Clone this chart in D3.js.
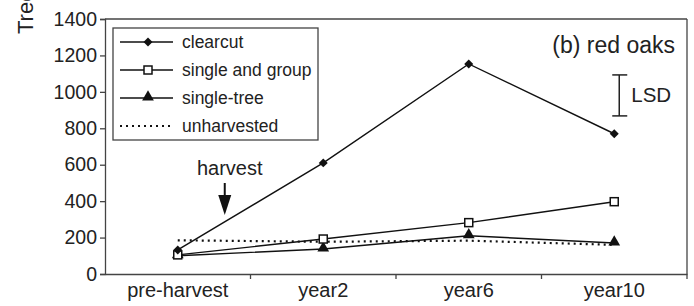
<!DOCTYPE html>
<html>
<head>
<meta charset="utf-8">
<script src="https://cdn.jsdelivr.net/npm/d3@7"></script>
<style>
  body { margin: 0; background: #fff; }
  text { font-family: "Liberation Sans", Arial, sans-serif; fill: #222; }
</style>
</head>
<body>
<div id="chart"></div>
<script>
// categories and series
var periods = ["pre-harvest", "year2", "year6", "year10"];
var clearcut = [132, 610, 1153, 770];
var singleGroup = [105, 192, 282, 397];
var singleTree = [100, 137, 210, 170];
var unharvested = [185, 177, 183, 160];
var yTicks = [0, 200, 400, 600, 800, 1000, 1200, 1400];
var lsd = [868, 1093];

var series = [
    { name: "clearcut", values: clearcut, marker: "diamond", dash: null },
    { name: "single and group", values: singleGroup, marker: "square", dash: null },
    { name: "single-tree", values: singleTree, marker: "triangle", dash: null },
    { name: "unharvested", values: unharvested, marker: "none", dash: "2,4" }
];

var W = 694, H = 306;
var margin = { top: 19, right: 7, bottom: 32, left: 105 },
    width = W - margin.left - margin.right,
    height = H - margin.top - margin.bottom;

var svg = d3.select("#chart").append("svg")
    .attr("width", W)
    .attr("height", H);

var g = svg.append("g")
    .attr("transform", "translate(" + margin.left + "," + margin.top + ")");

var x = d3.scaleBand().domain(periods).range([0, width]);
var y = d3.scaleLinear().domain([0, 1400]).range([height, 0]);
var cx = function (d, i) { return x(periods[i]) + x.bandwidth() / 2; };

// frame: top and right lines
g.append("line").attr("x1", 0).attr("x2", width).attr("y1", 0).attr("y2", 0)
    .attr("stroke", "#444").attr("stroke-width", 1.3);
g.append("line").attr("x1", width).attr("x2", width).attr("y1", 0).attr("y2", height)
    .attr("stroke", "#444").attr("stroke-width", 1.3);

// axes
var yAxis = g.append("g")
    .call(d3.axisLeft(y).tickValues(yTicks).tickFormat(d3.format("d")).tickSize(5).tickPadding(3));
var xAxis = g.append("g")
    .attr("transform", "translate(0," + height + ")")
    .call(d3.axisBottom(x).tickSize(0).tickPadding(9));

// x ticks at band boundaries
xAxis.selectAll(".bt")
    .data(periods.slice(1).concat(["end"]))
    .enter().append("line")
    .attr("x1", function (d, i) { return x.step() * (i + 1); })
    .attr("x2", function (d, i) { return x.step() * (i + 1); })
    .attr("y1", 0).attr("y2", 5)
    .attr("stroke", "#444").attr("stroke-width", 1.3);

[yAxis, xAxis].forEach(function (a) {
    a.select(".domain").attr("stroke", "#444").attr("stroke-width", 1.3);
    a.selectAll(".tick line").attr("stroke", "#444").attr("stroke-width", 1.3);
    a.selectAll("text").attr("font-size", 19.5).attr("fill", "#222")
        .attr("font-family", "Liberation Sans, Arial, sans-serif");
});
xAxis.selectAll(".tick text").attr("font-size", 20).attr("dy", "0.71em");

// y axis label (cut off at the top, as in the original figure)
svg.append("text")
    .attr("transform", "translate(33,34) rotate(-90)")
    .attr("font-size", 22)
    .text("Trees/ha");

// symbol helpers
function drawMarker(sel, type, px, py) {
    if (type === "diamond") {
        sel.append("path")
            .attr("d", d3.symbol().type(d3.symbolSquare).size(40))
            .attr("transform", "translate(" + px + "," + py + ") rotate(45)")
            .attr("fill", "#111");
    } else if (type === "square") {
        sel.append("rect")
            .attr("x", px - 4).attr("y", py - 4)
            .attr("width", 8).attr("height", 8)
            .attr("fill", "#fff").attr("stroke", "#111").attr("stroke-width", 1.5);
    } else if (type === "triangle") {
        sel.append("path")
            .attr("d", d3.symbol().type(d3.symbolTriangle).size(60))
            .attr("transform", "translate(" + px + "," + (py - 1) + ")")
            .attr("fill", "#111");
    }
}

var line = d3.line()
    .x(function (d, i) { return cx(d, i); })
    .y(function (d) { return y(d); });

// draw series (unharvested first so it sits under)
series.slice().reverse().forEach(function (s) {
    g.append("path")
        .datum(s.values)
        .attr("d", line)
        .attr("fill", "none")
        .attr("stroke", "#111")
        .attr("stroke-width", s.dash ? 2.2 : 1.4)
        .attr("stroke-dasharray", s.dash);
    s.values.forEach(function (v, i) {
        drawMarker(g, s.marker, cx(v, i), y(v));
    });
});

// legend
var lg = g.append("g").attr("transform", "translate(8,9)");
lg.append("rect")
    .attr("x", 0).attr("y", 0)
    .attr("width", 205).attr("height", 112)
    .attr("fill", "#fff").attr("stroke", "#444").attr("stroke-width", 1.3);
series.forEach(function (s, i) {
    var yy = 14 + i * 28;
    lg.append("line")
        .attr("x1", 7).attr("x2", 60).attr("y1", yy).attr("y2", yy)
        .attr("stroke", "#111")
        .attr("stroke-width", s.dash ? 2.2 : 1.4)
        .attr("stroke-dasharray", s.dash);
    drawMarker(lg, s.marker, 35, yy);
    lg.append("text")
        .attr("x", 69).attr("y", yy + 6)
        .attr("font-size", 17.5)
        .text(s.name);
});

// panel title
g.append("text")
    .attr("x", width - 12).attr("y", 34)
    .attr("text-anchor", "end")
    .attr("font-size", 23)
    .text("(b) red oaks");

// LSD bar
var lx = cx(0, 3) + 5;
var lsdG = g.append("g").attr("stroke", "#222").attr("stroke-width", 1.5);
lsdG.append("line").attr("x1", lx).attr("x2", lx).attr("y1", y(lsd[0])).attr("y2", y(lsd[1]));
lsdG.append("line").attr("x1", lx - 7).attr("x2", lx + 8).attr("y1", y(lsd[0])).attr("y2", y(lsd[0]));
lsdG.append("line").attr("x1", lx - 7).attr("x2", lx + 8).attr("y1", y(lsd[1])).attr("y2", y(lsd[1]));
g.append("text")
    .attr("x", lx + 12).attr("y", y((lsd[0] + lsd[1]) / 2) + 7)
    .attr("font-size", 20.5)
    .text("LSD");

// harvest annotation
var arrowX = cx(0, 0) + 47;
g.append("text")
    .attr("x", arrowX + 5)
    .attr("y", 156)
    .attr("text-anchor", "middle")
    .attr("font-size", 20)
    .text("harvest");
g.append("line")
    .attr("x1", arrowX).attr("x2", arrowX)
    .attr("y1", 164).attr("y2", 178)
    .attr("stroke", "#111").attr("stroke-width", 2);
g.append("path")
    .attr("d", "M" + (arrowX - 6.5) + ",176 L" + (arrowX + 6.5) + ",176 L" + arrowX + ",196 Z")
    .attr("fill", "#111");
</script>
</body>
</html>
